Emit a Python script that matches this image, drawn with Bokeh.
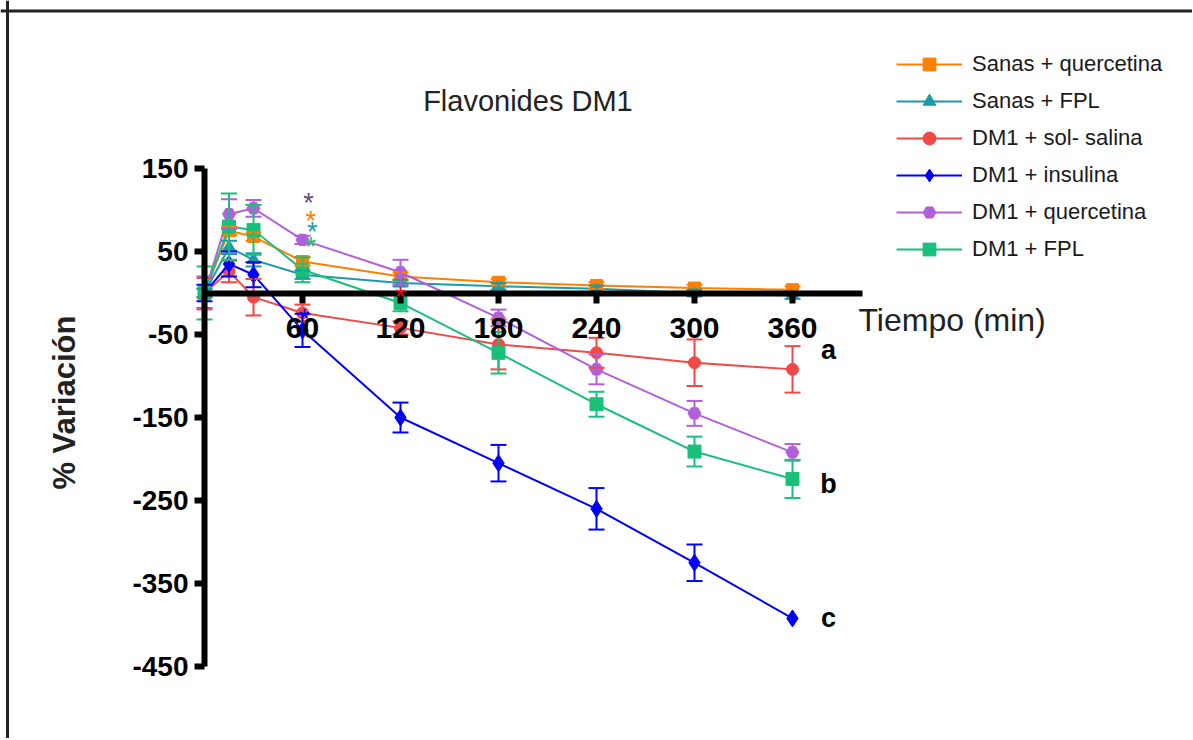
from bokeh.plotting import figure
from bokeh.models import (Range1d, FixedTicker, ColumnDataSource, Whisker, TeeHead,
                          Label, Span, Legend, LegendItem, LinearAxis, PrintfTickFormatter)
from bokeh.embed import file_html
from bokeh.resources import INLINE

# ---------------- data ----------------
tiempo = [0, 15, 30, 60, 120, 180, 240, 300, 360]

series_labels = ["Sanas + quercetina", "Sanas + FPL", "DM1 + sol- salina",
                 "DM1 + insulina", "DM1 + quercetina", "DM1 + FPL"]

sanas_quercetina = [0, 75, 68, 38, 20, 13, 9, 6, 4]
sanas_fpl = [0, 55, 40, 22, 12, 8, 5, 0, -3]
dm1_salina = [0, 26, -5, -24, -42, -62, -72, -84, -92]
dm1_insulina = [0, 35, 22, -45, -150, -205, -260, -325, -392]
dm1_quercetina = [0, 95, 102, 64, 25, -30, -92, -145, -192]
dm1_fpl = [0, 80, 76, 28, -12, -72, -134, -191, -224]

err_sanas_quercetina = [5, 5, 5, 5, 5, 4, 4, 4, 4]
err_sanas_fpl = [5, 8, 8, 5, 4, 4, 4, 4, 4]
err_dm1_salina = [18, 13, 22, 10, 8, 30, 18, 28, 28]
err_dm1_insulina = [10, 15, 15, 20, 18, 22, 25, 22, 0]
err_dm1_quercetina = [20, 18, 10, 5, 15, 10, 18, 15, 10]
err_dm1_fpl = [32, 40, 30, 15, 10, 25, 15, 18, 23]

x_ticks = [60, 120, 180, 240, 300, 360]
y_ticks = [150, 50, -50, -150, -250, -350, -450]

colors = ["#FF8000", "#1B9AAA", "#F24848", "#0000FF", "#B35FD9", "#19C07A"]
markers = ["square", "triangle", "circle", "diamond", "hex", "square"]
marker_sizes = [12, 13, 12, 17, 13, 13]

values = [sanas_quercetina, sanas_fpl, dm1_salina, dm1_insulina, dm1_quercetina, dm1_fpl]
errors = [err_sanas_quercetina, err_sanas_fpl, err_dm1_salina, err_dm1_insulina,
          err_dm1_quercetina, err_dm1_fpl]

# ---------------- figure ----------------
W, H = 1192, 738
p = figure(width=W, height=H, output_backend="svg", toolbar_location=None,
           x_range=Range1d(-124.9, 604.9), y_range=Range1d(-536.7, 352.4),
           x_axis_location=None, y_axis_location=None, min_border=0)
p.grid.visible = False
p.outline_line_color = None
p.background_fill_color = "white"

FONT = "Liberation Sans"

xaxis = LinearAxis(fixed_location=0, bounds=(0, 403), ticker=FixedTicker(ticks=x_ticks),
                   formatter=PrintfTickFormatter(format="%d"))
yaxis = LinearAxis(fixed_location=0, bounds=(-450, 150), ticker=FixedTicker(ticks=y_ticks),
                   formatter=PrintfTickFormatter(format="%d"))
for ax in (xaxis, yaxis):
    ax.axis_line_width = 6
    ax.axis_line_color = "black"
    ax.major_tick_line_width = 6
    ax.major_tick_line_color = "black"
    ax.major_tick_in = 0
    ax.major_tick_out = 10
    ax.minor_tick_line_color = None
    ax.major_label_text_font = FONT
    ax.major_label_text_font_style = "bold"
    ax.major_label_text_color = "black"
xaxis.major_label_text_font_size = "30px"
xaxis.major_label_standoff = 15
yaxis.major_label_text_font_size = "28px"
yaxis.major_label_standoff = 6
p.add_layout(xaxis, "below")
p.add_layout(yaxis, "left")

items = []
for lab, ys, es, c, m, ms in zip(series_labels, values, errors, colors, markers, marker_sizes):
    src = ColumnDataSource(dict(t=tiempo, v=ys))
    keep = [i for i, e in enumerate(es) if e > 0]
    wsrc = ColumnDataSource(dict(t=[tiempo[i] for i in keep],
                                 lo=[ys[i] - es[i] for i in keep],
                                 hi=[ys[i] + es[i] for i in keep]))
    w = Whisker(base="t", lower="lo", upper="hi", source=wsrc, line_color=c, line_width=2,
                upper_head=TeeHead(size=16, line_color=c, line_width=2),
                lower_head=TeeHead(size=16, line_color=c, line_width=2), level="glyph")
    p.add_layout(w)
    r1 = p.line("t", "v", source=src, line_color=c, line_width=2)
    r2 = p.scatter("t", "v", source=src, marker=m, size=ms, fill_color=c, line_color=c)
    items.append(LegendItem(label=lab, renderers=[r1, r2]))

legend = Legend(items=items, location=(896, 473), glyph_width=66, glyph_height=32,
                label_height=32, spacing=5, padding=0, margin=0, label_standoff=10,
                label_text_font=FONT, label_text_font_size="22px",
                label_text_color="#1a1a1a", border_line_color=None,
                background_fill_alpha=0)
p.add_layout(legend)

# significance marks
stars = [(63.7, 108, "#5A4A7A"), (65, 87, "#FF8000"), (66, 73, "#1B9AAA"),
         (65, 55, "#19C07A"), (61, -31, "#0000FF"), (120, -5, "#FF0000")]
for sx, sy, sc in stars:
    p.add_layout(Label(x=sx, y=sy, text="*", text_color=sc, text_font=FONT,
                       text_font_size="27px", text_align="center", text_baseline="middle"))

for lx, ly, lt in [(382, -69, "a"), (382, -230, "b"), (382, -392, "c")]:
    p.add_layout(Label(x=lx, y=ly, text=lt, text_color="black", text_font=FONT,
                       text_font_style="bold", text_font_size="27px",
                       text_align="center", text_baseline="middle"))

p.add_layout(Label(x=198, y=231, text="Flavonides DM1", text_color="#222222",
                   text_font=FONT, text_font_size="29px", text_align="center",
                   text_baseline="middle"))
p.add_layout(Label(x=400.4, y=-33, text="Tiempo (min)", text_color="#222222",
                   text_font=FONT, text_font_size="32px", text_align="left",
                   text_baseline="middle"))
p.add_layout(Label(x=-85.7, y=-132, text="% Variación", text_color="#222222",
                   text_font=FONT, text_font_style="bold", text_font_size="31px",
                   angle=1.5708, text_align="center", text_baseline="middle"))

# outer frame lines (top and left)
p.add_layout(Span(location=339.8, dimension="width", line_color="#222222", line_width=3))
p.add_layout(Span(location=-120.6, dimension="height", line_color="#222222", line_width=3))

open("out.html", "w").write(file_html(p, INLINE))
